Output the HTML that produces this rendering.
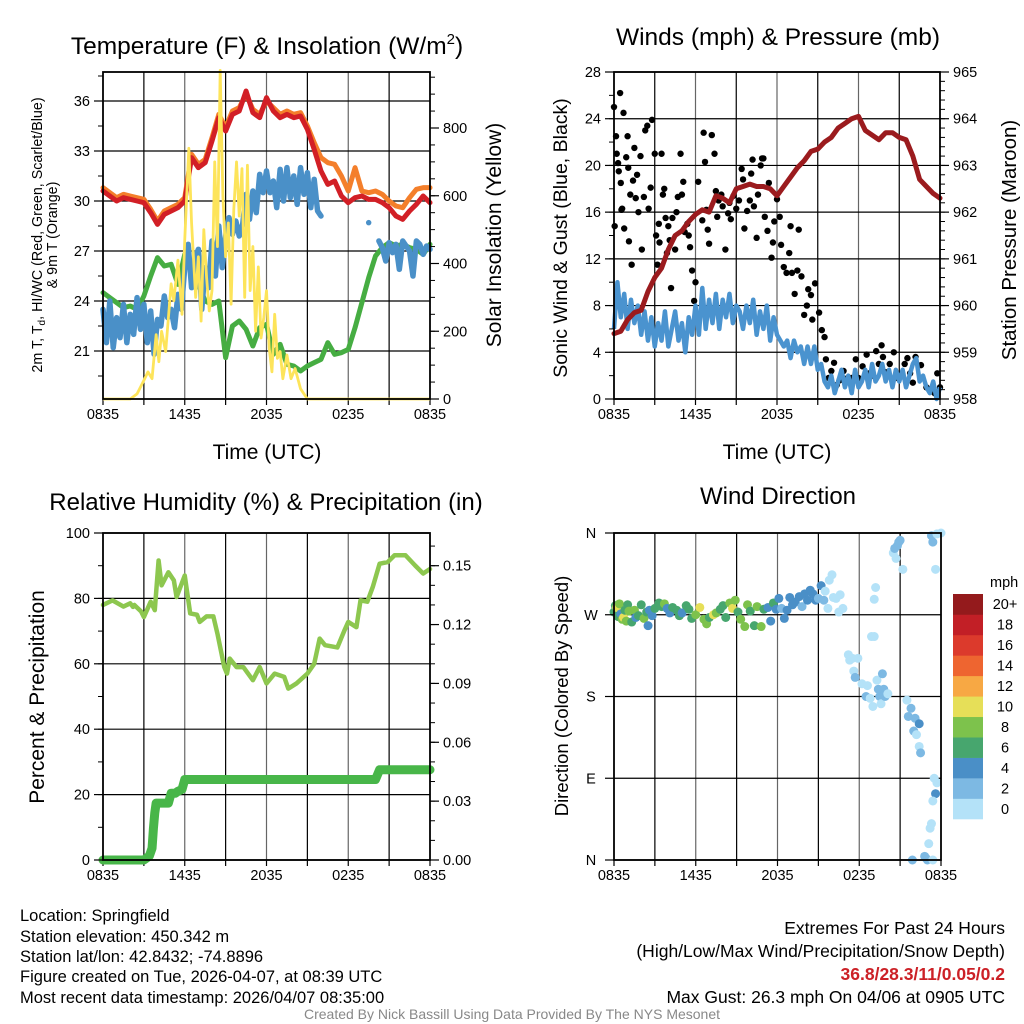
<!DOCTYPE html>
<html><head><meta charset="utf-8">
<style>
html,body{margin:0;padding:0;background:#fff;}
svg{display:block;font-family:"Liberation Sans",Arial,sans-serif;}
</style></head>
<body>
<svg id="fig" width="1024" height="1024" viewBox="0 0 1024 1024">
<rect x="0" y="0" width="1024" height="1024" fill="#fff"/>
<g id="p1"></g>
<g id="p2"></g>
<g id="p3"></g>
<g id="p4"></g>

<text x="267" y="54" font-size="24.5" text-anchor="middle">Temperature (F) &amp; Insolation (W/m<tspan dy="-10" font-size="15">2</tspan><tspan dy="10">)</tspan></text>
<text x="778" y="45" font-size="24.5" text-anchor="middle">Winds (mph) &amp; Pressure (mb)</text>
<text x="266" y="510" font-size="24" text-anchor="middle">Relative Humidity (%) &amp; Precipitation (in)</text>
<text x="778" y="504" font-size="24" text-anchor="middle">Wind Direction</text>

<text x="267" y="459" font-size="21" text-anchor="middle">Time (UTC)</text>
<text x="777" y="459" font-size="21" text-anchor="middle">Time (UTC)</text>

<text transform="translate(42,235) rotate(-90)" font-size="14.3" text-anchor="middle">2m T, T<tspan dy="3" font-size="10">d</tspan><tspan dy="-3">, HI/WC (Red, Green, Scarlet/Blue)</tspan></text>
<text transform="translate(57,235) rotate(-90)" font-size="14.3" text-anchor="middle">&amp; 9m T (Orange)</text>
<text transform="translate(501,235) rotate(-90)" font-size="21" text-anchor="middle">Solar Insolation (Yellow)</text>
<text transform="translate(567,238) rotate(-90)" font-size="19.5" text-anchor="middle">Sonic Wind &amp; Gust (Blue, Black)</text>
<text transform="translate(1016,240) rotate(-90)" font-size="20.5" text-anchor="middle">Station Pressure (Maroon)</text>
<text transform="translate(44,697) rotate(-90)" font-size="21" text-anchor="middle">Percent &amp; Precipitation</text>
<text transform="translate(568,696) rotate(-90)" font-size="18.5" text-anchor="middle">Direction (Colored By Speed)</text>

<g font-size="16.5">
<text x="20" y="921">Location: Springfield</text>
<text x="20" y="942">Station elevation: 450.342 m</text>
<text x="20" y="962">Station lat/lon: 42.8432; -74.8896</text>
<text x="20" y="982">Figure created on Tue, 2026-04-07, at 08:39 UTC</text>
<text x="20" y="1003">Most recent data timestamp: 2026/04/07 08:35:00</text>
</g>
<g font-size="17.5" text-anchor="end">
<text x="1005" y="934">Extremes For Past 24 Hours</text>
<text x="1005" y="957">(High/Low/Max Wind/Precipitation/Snow Depth)</text>
<text x="1005" y="980" fill="#cc2127" font-weight="bold">36.8/28.3/11/0.05/0.2</text>
<text x="1005" y="1003">Max Gust: 26.3 mph On 04/06 at 0905 UTC</text>
</g>
<text x="512" y="1019" font-size="14" fill="#888" text-anchor="middle">Created By Nick Bassill Using Data Provided By The NYS Mesonet</text>
</svg>
<script>
// ---------- DATA ----------
const xTickLabels = ["0835","1435","2035","0235","0835"];
// Panel 1 (half-hour steps 0..24h)
const tempRed = [30.6,30.3,30.0,30.2,30.1,30.0,29.9,29.3,28.6,29.2,29.4,29.6,30.0,32.6,32.0,32.3,33.6,35.0,34.2,35.2,35.4,36.6,35.3,35.0,36.2,35.4,35.0,35.2,35.0,35.1,34.3,33.1,31.8,31.0,31.2,30.3,29.9,30.2,30.3,30.1,30.1,29.9,29.6,29.1,28.9,29.4,29.8,30.3,29.9];
const tempOrange = [30.8,30.5,30.2,30.4,30.3,30.2,30.1,29.5,28.8,29.4,29.6,29.8,30.2,32.8,32.2,32.5,33.8,35.2,34.4,35.4,35.6,36.4,35.5,35.2,36.0,35.6,35.2,35.4,35.2,35.3,34.5,33.5,32.6,32.3,32.2,31.5,30.6,32.0,30.6,30.5,30.6,30.4,30.0,29.7,29.6,30.2,30.7,30.8,30.8];
const dewGreen = [24.5,24.2,23.9,23.6,23.7,23.5,24.3,25.5,26.6,26.1,26.2,25.0,26.8,26.3,25.0,24.0,23.8,24.0,20.6,22.5,22.8,22.3,21.3,22.4,22.6,20.8,21.4,20.2,20.1,19.8,20.1,20.3,20.5,21.5,20.8,20.9,21.1,22.4,23.9,25.4,26.7,27.2,27.5,27.3,27.4,27.2,27.1,26.8,27.4];
// quarter-hour steps 0..24h, null = missing
const hiwcBlue = [23.5,21.5,24,21.2,23,21.8,23.8,21.5,23.2,22,24.2,22.3,23.8,
21.5,23.4,20.8,22.9,22.5,24.3,23.0,23.5,22.4,24.4,23.5,26.0,
27.4,24.8,26.6,27.1,23.5,26.0,24.8,27.6,25.5,28.5,26.0,27.9,
29.0,28.0,28.8,27.9,28.6,30.4,28.9,30.6,29.3,31.6,30.5,31.8,
30.5,31.2,29.6,31.9,30.0,32.0,30.2,31.5,29.8,32.0,30.4,31.7,29.6,31.3,29.4,29.1,
null,null,null,null,null,null,null,null,null,null,null,null,null,
28.7,null,null,
27.6,27.2,26.4,27.5,26.9,27.4,25.9,27.6,27.3,27.0,25.5,27.6,27.4,26.8,27.3,27.1];
const solarHours = [0,2,2.5,3,3.3,3.6,3.9,4.1,4.3,4.6,5,5.2,5.5,5.8,6,6.3,6.5,6.8,7,7.2,7.4,7.6,7.8,8,8.2,8.4,8.6,8.8,9,9.2,9.4,9.6,9.8,10,10.2,10.4,10.6,10.8,11,11.2,11.4,11.6,11.8,12,12.2,12.4,12.6,12.8,13,13.2,13.5,13.8,14.1,14.5,15,24];
const solarValues = [0,0,15,55,80,60,190,110,200,140,340,290,410,250,470,740,520,300,420,230,500,360,260,320,700,450,970,600,420,520,280,560,700,540,680,300,690,320,450,200,390,180,240,320,150,80,250,120,140,60,130,60,90,30,0,0];
// Panel 2
const windBlue = [6,10,7,9,6,8.5,6.5,8,5.5,7.5,5,7,4.5,
6.5,5,7.5,4.5,6,7.5,5,6.5,4,7,5.5,8,
5.5,9.5,6,8.5,6.5,9,6,8.5,7,9,6.5,8,
7.5,6,8,6.5,8.5,5.5,7.5,6,8,5,7,5.5,
5,4.5,5,3.5,5,4,4.5,3,4.5,3,4.5,2.5,
3,1.5,1,2,0.5,1.5,2.5,1,2,0.5,2.5,1,
1.5,2.5,1,3,1.5,2,3,1.5,2.5,1,2.5,1.5,
2.5,1,2,3,3.5,1.5,2,1,0.5,1.5,0,1];
const pressure = [959.4,959.45,959.7,959.85,959.9,960.3,960.6,960.8,961.2,961.5,961.6,961.8,961.95,962.05,962.0,962.35,962.3,962.2,962.5,962.55,962.6,962.55,962.55,962.5,962.35,962.55,962.75,962.95,963.1,963.3,963.35,963.5,963.6,963.8,963.9,964.0,964.05,963.75,963.65,963.55,963.7,963.7,963.6,963.55,963.2,962.7,962.55,962.4,962.3];
const gustHours = [0.0,0.05,0.15,0.2,0.3,0.35,0.45,0.5,0.55,0.6,0.7,0.75,0.9,1.0,1.05,1.1,1.2,1.3,1.4,1.5,1.6,1.7,1.8,1.95,2.05,2.2,2.3,2.45,2.55,2.7,2.8,3.0,3.1,3.2,3.3,3.35,3.5,3.6,3.7,3.8,3.9,4.0,4.1,4.2,4.3,4.5,4.6,4.7,4.9,5.0,5.1,5.2,5.4,5.5,5.6,5.75,5.9,6.0,6.2,6.5,6.6,6.7,6.8,6.9,7.0,7.2,7.4,7.5,7.6,7.7,7.9,8.0,8.2,8.4,8.5,8.6,8.8,9.0,9.2,9.4,9.5,9.6,9.8,10.0,10.1,10.2,10.3,10.5,10.6,10.8,10.9,11.0,11.1,11.3,11.4,11.6,11.7,11.8,12.0,12.2,12.3,12.5,12.7,12.9,13.0,13.1,13.3,13.5,13.6,13.8,14.0,14.2,14.3,14.5,14.6,14.8,15.1,15.3,15.5,15.6,15.8,16.0,16.2,16.4,16.6,16.9,17.2,17.5,17.8,18.0,18.3,18.6,18.8,19.0,19.3,19.5,19.7,19.8,20.0,20.3,20.6,20.8,21.1,21.4,21.6,21.8,22.0,22.2,22.6,23.0,23.3,23.6,23.8,24.0];
const gustValues = [25.0,14.8,22.5,21.0,20.2,19.5,26.2,18.5,16.2,16.3,24.5,14.6,20.7,22.5,19.8,13.5,17.5,11.5,18.7,21.5,17.2,19.2,16.0,20.8,12.8,17.3,23.0,23.4,16.3,18.1,23.9,21.0,14.0,11.5,15.0,13.4,21.0,17.5,18.0,15.5,12.5,14.8,13.6,9.5,15.5,12.8,16.0,17.3,21.0,17.5,18.6,14.3,15.0,14.0,13.0,11.0,8.4,10.0,18.6,15.3,22.8,20.3,16.2,14.5,13.3,22.6,21.0,17.8,15.6,17.0,17.5,16.5,12.8,15.9,16.8,15.4,17.4,16.3,17.0,19.7,18.8,14.6,16.1,17.0,19.3,20.5,16.5,13.8,17.5,20.0,20.6,20.6,15.6,14.4,18.5,12.1,13.4,15.2,17.1,15.6,13.2,11.3,10.8,12.5,14.8,10.8,9.0,11.0,14.5,10.5,7.2,8.0,9.4,8.9,6.8,9.9,7.4,5.9,5.3,3.4,1.8,2.4,3.1,1.2,1.6,2.4,1.8,1.8,3.4,1.8,2.8,3.8,2.2,2.0,4.1,3.0,4.6,3.6,2.3,3.0,4.0,1.8,2.1,3.0,3.5,2.2,1.4,3.6,2.9,1.0,0.8,0.5,2.2,1.0];
// Panel 3 (RH by hour list, precip)
const rhHours = [0,0.7,1.5,2,2.2,2.3,2.8,3,3.5,3.8,4.08,4.3,4.8,5.2,5.4,6,6.4,6.9,7.1,7.6,8.1,8.4,8.9,9.1,9.3,9.8,10.3,11,11.5,12,12.6,13.3,13.6,14.2,15,15.5,15.9,16.3,17.2,17.7,18,18.6,18.9,19.4,19.8,20.3,20.9,21.4,22.2,22.9,23.5,24];
const rhValues = [78,79.4,77.5,78.5,77.4,78,76,74.3,79,76.4,91.6,84,88,85.5,80.4,87,75.4,75,72.8,74.5,74.5,69.2,59,57,61.6,59,59,55,59,54,57,56,52.4,54,57,60,67.7,65.7,65,70,72.8,71.2,79.4,79,83.5,90.6,91.1,93.2,93.2,90.1,87.6,89];
const precipHours = [0,0.5,1,1.5,2,2.5,3,3.4,3.6,3.65,3.7,3.75,3.8,3.9,4.2,4.5,4.8,5,5.3,5.5,5.8,6,7,8,9,10,11,12,13,14,15,16,17,18,19,20,20.3,20.6,21,22,23,24];
const precipValues = [0,0,0,0,0,0,0,0.002,0.006,0.011,0.016,0.02,0.024,0.029,0.029,0.029,0.029,0.034,0.034,0.035,0.036,0.041,0.041,0.041,0.041,0.041,0.041,0.041,0.041,0.041,0.041,0.041,0.041,0.041,0.041,0.041,0.046,0.046,0.046,0.046,0.046,0.046];
// Panel 4
const dirHours = [0.0,0.1,0.2,0.3,0.4,0.5,0.6,0.7,0.8,0.9,1.0,1.1,1.3,1.5,1.6,1.8,2.0,2.2,2.4,2.5,2.6,2.8,3.0,3.3,3.5,3.7,3.9,4.1,4.3,4.6,4.8,5.0,5.3,5.5,5.7,6.0,6.3,6.6,6.8,7.0,7.3,7.5,7.8,8.0,8.2,8.5,8.7,8.9,9.1,9.3,9.6,9.8,10.0,10.3,10.5,10.8,11.0,11.3,11.5,11.7,11.9,12.1,12.3,12.5,12.7,12.9,13.1,13.3,13.6,13.8,14.0,14.2,14.4,14.6,14.8,15.0,15.2,15.4,15.5,15.7,15.8,16.0,16.1,16.3,16.5,16.6,16.8,17.2,17.3,17.5,17.6,17.7,17.9,18.2,18.5,18.6,18.8,19.0,18.9,19.1,19.3,19.4,19.5,19.6,19.8,19.9,19.7,20.1,19.1,19.2,20.5,20.6,20.8,20.9,21.0,20.7,21.2,21.5,21.6,21.8,22.0,22.1,22.2,22.4,22.4,22.5,23.3,23.4,23.6,23.7,23.5,23.6,23.4,23.3,23.2,23.1,22.8,22.9,23.0,23.4,21.9,23.7,24];
const dirDegrees = [273,280,278,268,282,271,265,267,275,263,281,274,262,275,267,269,281,266,273,258,275,269,277,283,279,282,277,272,278,275,269,272,280,276,266,270,278,265,260,267,270,272,276,280,267,283,277,286,273,265,257,281,274,258,279,257,276,278,263,283,276,288,277,266,275,289,281,284,290,279,293,286,297,293,286,288,302,286,296,277,308,314,289,288,273,292,277,226,220,222,208,201,222,194,180,192,178,169,246,246,198,188,180,172,188,180,205,183,287,300,338,343,346,350,352,332,320,176,158,167,142,156,138,150,125,118,357,350,320,359,90,73,65,40,35,18,4,2,0,0,0,85,360];
const dirSpeeds = [6,7,10,7,9,5,8,10,7,8,6,8,7,8,5,7,6,8,7,4,5,5,7,6,6,8,4,4,6,6,7,5,6,7,7,8,10,8,8,7,10,8,7,6,6,8,10,8,7,8,8,8,6,6,8,8,7,4,4,7,5,4,3,4,4,4,4,4,4,2,4,4,4,4,4,3,4,2,1,0,0,0,0,1,0,1,1,0,1,1,1,3,1,0,2,0,1,1,1,1,1,3,2,1,2,3,3,1,0,0,1,2,2,3,2,0,0,0,2,3,3,2,1,4,1,2,2,2,1,0,0,4,0,0,0,1,3,3,2,1,3,0,0];
const cbarLabels = ["0","2","4","6","8","10","12","14","16","18","20+"];
const cbarColors = ["#b4e2f8","#7db9e3","#4a8fc7","#47a66e","#7dc24c","#e6df58","#f7a844","#ee6530","#dc3a2c","#c21f26","#941a1c"];

// ---------- HELPERS ----------
const NS = "http://www.w3.org/2000/svg";
function mk(tag, attrs, parent){
  const el = document.createElementNS(NS, tag);
  for (const k in attrs) el.setAttribute(k, attrs[k]);
  parent.appendChild(el);
  return el;
}
function frame(g, P, hLines){
  for (let h = 3; h < 24; h += 3){
    const x = P.x(h);
    const gl = mk("line", {x1:x, x2:x, y1:P.T, y2:P.B, stroke:"#000", "stroke-width":1.2, opacity:(h%6===0?0.6:1)}, g);
    
    
  }
  hLines.forEach(y => {
    const gl = mk("line", {x1:P.L, x2:P.R, y1:y, y2:y, stroke:"#000", "stroke-width":1.2}, g);
    
    
  });
  for (let h = 0; h <= 24; h += 3){
    const x = P.x(h);
    const t = mk("line", {x1:x, x2:x, y1:P.B, y2:P.B+6, stroke:"#000", "stroke-width":1.2}, g);
    
    
  }
  xTickLabels.forEach((lab, i) => {
    const t = mk("text", {x:P.x(i*6), y:P.B+20, "font-size":14.5, "text-anchor":"middle"}, g);
    t.textContent = lab;
    
    
  });
}
function box(g, P){
  const b = mk("rect", {x:P.L, y:P.T, width:P.R-P.L, height:P.B-P.T, fill:"none", stroke:"#000", "stroke-width":1.8}, g);
  
  
}
function yAxis(g, P, side, vals, fn, labels, minorVals){
  const x0 = side === "left" ? P.L : P.R;
  const dir = side === "left" ? -1 : 1;
  minorVals.forEach(v => {
    const y = fn(v);
    const t = mk("line", {x1:x0, x2:x0+dir*5, y1:y, y2:y, stroke:"#000", "stroke-width":1}, g);
    
    
  });
  vals.forEach((v, i) => {
    const y = fn(v);
    const t = mk("line", {x1:x0, x2:x0+dir*9, y1:y, y2:y, stroke:"#000", "stroke-width":1.2}, g);
    
    
    const tx = mk("text", {x:x0+dir*13, y:y+5, "font-size":14.5, "text-anchor": side==="left"?"end":"start"}, g);
    tx.textContent = labels[i];
    
    
  });
}
function pathFrom(xs, ys){
  let d = "", pen = false;
  for (let i = 0; i < xs.length; i++){
    if (ys[i] === null || ys[i] === undefined){ pen = false; continue; }
    const x = xs[i].toFixed(2), y = ys[i].toFixed(2);
    if (!pen){ d += "M" + x + " " + y + " L" + x + " " + y + " "; pen = true; }
    else d += "L" + x + " " + y + " ";
  }
  return d;
}
function range(a, b, s){ const r = []; for (let v = a; v <= b + 1e-9; v += s) r.push(+v.toFixed(4)); return r; }
function mkScaleX(L, R){ return h => L + h * (R - L) / 24; }

// ---------- PANEL 1 ----------
(function(){
  const g = document.getElementById("p1");
  const P = {L:103, R:430, T:72, B:399};
  P.x = mkScaleX(P.L, P.R);
  const yT = v => 101 + (36 - v) * 50 / 3;
  const yS = w => 399 - w * 271 / 800;
  const tTicks = [21,24,27,30,33,36];
  frame(g, P, tTicks.map(yT));
  const halfH = tempRed.map((_, i) => i / 2);
  const qH = hiwcBlue.map((_, i) => i / 4);
  const series = [
    {vals: tempOrange, hrs: halfH, c:"#f47f2b", w:5, n:"orange-9m-temp-line"},
    {vals: tempRed, hrs: halfH, c:"#d21f26", w:5, n:"red-2m-temp-line"},
    {vals: dewGreen, hrs: halfH, c:"#46ad42", w:5, n:"green-dewpoint-line"},
    {vals: hiwcBlue, hrs: qH, c:"#4a90c8", w:5.5, n:"blue-heat-index-line"}
  ];
  series.forEach(s => {
    const p = mk("path", {d: pathFrom(s.hrs.map(P.x), s.vals.map(v => v===null?null:yT(v))), fill:"none", stroke:s.c, "stroke-width":s.w, "stroke-linejoin":"round", "stroke-linecap":"round"}, g);
    
    
  });
  const sp = mk("path", {d: pathFrom(solarHours.map(P.x), solarValues.map(yS)), fill:"none", stroke:"#fde45a", "stroke-width":2.8, "stroke-linejoin":"round"}, g);
  
  
  box(g, P);
  yAxis(g, P, "left", tTicks, yT, tTicks.map(String), range(19.5, 37.5, 1.5));
  yAxis(g, P, "right", [0,200,400,600,800], yS, ["0","200","400","600","800"], range(0, 950, 50));
})();

// ---------- PANEL 2 ----------
(function(){
  const g = document.getElementById("p2");
  const P = {L:614, R:940, T:72, B:399};
  P.x = mkScaleX(P.L, P.R);
  const yW = v => 399 - v * 327 / 28;
  const yP = p => 399 - (p - 958) * 327 / 7;
  const wTicks = [0,4,8,12,16,20,24,28];
  frame(g, P, wTicks.map(yW));
  gustHours.forEach((h, i) => {
    const c = mk("circle", {cx:P.x(h), cy:yW(gustValues[i]), r:3.2, fill:"#000"}, g);
    
    
  });
  const qH = windBlue.map((_, i) => i / 4);
  const wp = mk("path", {d: pathFrom(qH.map(P.x), windBlue.map(yW)), fill:"none", stroke:"#4a93cf", "stroke-width":4.5, "stroke-linejoin":"round"}, g);
  
  
  const halfH = pressure.map((_, i) => i / 2);
  const pp = mk("path", {d: pathFrom(halfH.map(P.x), pressure.map(yP)), fill:"none", stroke:"#9b1b1e", "stroke-width":5, "stroke-linejoin":"round", "stroke-linecap":"round"}, g);
  
  
  box(g, P);
  yAxis(g, P, "left", wTicks, yW, wTicks.map(String), range(0, 28, 2));
  const pT = [958,959,960,961,962,963,964,965];
  yAxis(g, P, "right", pT, yP, pT.map(String), range(958, 965, 0.2));
})();

// ---------- PANEL 3 ----------
(function(){
  const g = document.getElementById("p3");
  const P = {L:103, R:430, T:533, B:860};
  P.x = mkScaleX(P.L, P.R);
  const yR = v => 860 - v * 3.27;
  const yPr = p => 860 - p * 600 * 3.27;
  const rT = [0,20,40,60,80,100];
  frame(g, P, rT.map(yR));
  const rp = mk("path", {d: pathFrom(rhHours.map(P.x), rhValues.map(yR)), fill:"none", stroke:"#8dc74f", "stroke-width":4.5, "stroke-linejoin":"round", "stroke-linecap":"round"}, g);
  
  
  const pr = mk("path", {d: pathFrom(precipHours.map(P.x), precipValues.map(yPr)), fill:"none", stroke:"#48b649", "stroke-width":9, "stroke-linejoin":"round", "stroke-linecap":"round"}, g);
  
  
  box(g, P);
  yAxis(g, P, "left", rT, yR, rT.map(String), range(0, 100, 10));
  const pT = [0,0.03,0.06,0.09,0.12,0.15];
  yAxis(g, P, "right", pT, yPr, pT.map(v => v.toFixed(2)), range(0, 0.16, 0.01));
})();

// ---------- PANEL 4 ----------
(function(){
  const g = document.getElementById("p4");
  const P = {L:614, R:941, T:533, B:860};
  P.x = mkScaleX(P.L, P.R);
  const yD = d => 533 + (360 - d) / 360 * 327;
  const dT = [0,90,180,270,360];
  frame(g, P, dT.map(yD));
  const colorFor = s => cbarColors[Math.min(10, Math.max(0, Math.floor(s / 2)))];
  dirHours.forEach((h, i) => {
    const c = mk("circle", {cx:P.x(h), cy:yD(dirDegrees[i]), r:4.5, fill:colorFor(dirSpeeds[i])}, g);
    
    
  });
  box(g, P);
  const dl = ["N","E","S","W","N"];
  dT.forEach((d, i) => {
    const y = yD(d);
    const t = mk("line", {x1:P.L, x2:P.L-9, y1:y, y2:y, stroke:"#000", "stroke-width":1.2}, g);
    
    
    const tx = mk("text", {x:591, y:y+5, "font-size":14.5, "text-anchor":"middle"}, g);
    tx.textContent = dl[i];
    
    
  });
  const cb = mk("g", {}, g);
  
  
  const top = 594, bh = 225 / 11;
  cbarColors.forEach((c, i) => {
    const y = top + (10 - i) * bh;
    const r = mk("rect", {x:953, y:y, width:30, height:bh + 0.3, fill:c}, cb);
    
    
    const t = mk("text", {x:1005, y:y + bh/2 + 5, "font-size":14.5, "text-anchor":"middle"}, cb);
    t.textContent = cbarLabels[i];
    
    
  });
  const mt = mk("text", {x:990, y:587, "font-size":14.5}, cb);
  mt.textContent = "mph";
  
  
})();
</script>
</body></html>
